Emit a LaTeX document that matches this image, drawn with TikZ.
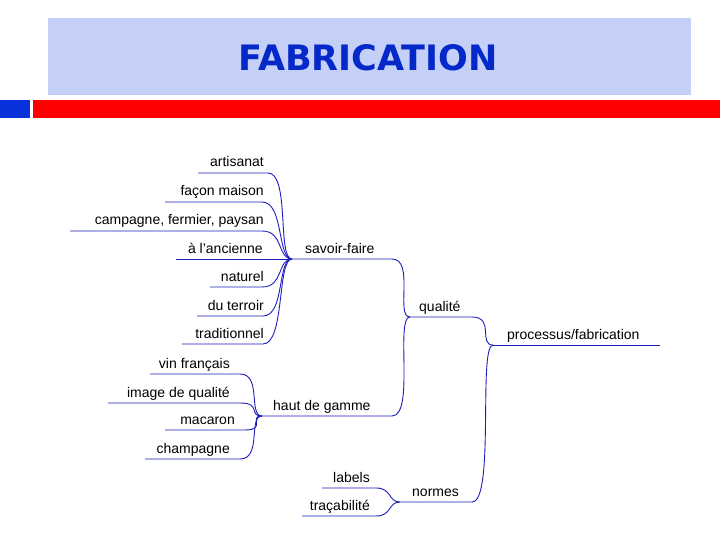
\documentclass[tikz,border=0pt]{standalone}
\usepackage{fontspec}
\setmainfont{Liberation Sans}
\newfontfamily\titlefont{DejaVu Sans}
\begin{document}
\begin{tikzpicture}[x=1pt,y=-1pt,
  br/.style={draw={rgb,255:red,30;green,30;blue,190},line width=0.9pt},
  lblL/.style={font=\fontsize{14}{16}\selectfont,inner sep=0pt,anchor=base east},
  lblR/.style={font=\fontsize{14}{16}\selectfont,inner sep=0pt,anchor=base west}]
\useasboundingbox (0,0) rectangle (720,540);
\fill[white] (0,0) rectangle (720,540);
\fill[fill={rgb,255:red,197;green,208;blue,248}] (48,18) rectangle (691,95);
\node[font=\titlefont\bfseries\fontsize{35}{38}\selectfont,text={rgb,255:red,5;green,40;blue,200}] (title) at (368,58) {FABRICATION};
\fill[fill={rgb,255:red,10;green,50;blue,220}] (0,100) rectangle (30,118);
\fill[red] (33,100) rectangle (720,118);
% hubs
\coordinate (hSF) at (292,259);
\coordinate (hQ) at (410,317);
\coordinate (hP) at (493,345);
\coordinate (hH) at (262,416);
\coordinate (hN) at (400,502);
% left items of savoir-faire
\foreach \nm/\txt/\y/\xa/\xb in {a/artisanat/173/198/268, b/{façon maison}/202/165/262, c/{campagne, fermier, paysan}/231/70/262, e/naturel/287/210/262, f/du terroir/316/197/263, g/traditionnel/344/182/263}{
  \coordinate (s\nm) at (\xa,\y);
  \coordinate (t\nm) at (\xb,\y);
  \node[lblL] (n\nm) at (264,\y-6) {\txt};
  \draw[br] (s\nm) -- (t\nm) .. controls (\xb+22,\y) and (277,259) .. (hSF);
}
\coordinate (sd) at (176,259);
\node[lblL] (nd) at (263,253) {à l'ancienne};
\draw[br] (sd) -- (hSF);
% savoir-faire
\node[lblR] (nsf) at (305,253) {savoir-faire};
\coordinate (esf) at (392,259);
\draw[br] (hSF) -- (esf) .. controls (415,259) and (395,317) .. (hQ);
% haut de gamme items
\foreach \nm/\txt/\y/\xa/\xb in {v/{vin français}/374/150/240, i/{image de qualité}/403/108/240, m/macaron/430/165/245, c/champagne/459/145/240}{
  \coordinate (sh\nm) at (\xa,\y);
  \coordinate (th\nm) at (\xb,\y);
  \node[lblL] (nh\nm) at (\xb-10,\y-6) {\txt};
  \draw[br] (sh\nm) -- (th\nm) .. controls (\xb+22,\y) and (248,416) .. (hH);
}
\node[lblR] (nhg) at (273,410) {haut de gamme};
\coordinate (ehg) at (392,416);
\draw[br] (hH) -- (ehg) .. controls (415,416) and (395,317) .. (hQ);
% qualite
\node[lblR] (nq) at (419,311) {qualité};
\coordinate (eq) at (472,317);
\draw[br] (hQ) -- (eq) .. controls (495,317) and (478,345) .. (hP);
% processus
\node[lblR] (np) at (507,339) {processus/fabrication};
\coordinate (ep) at (660,345);
\draw[br] (hP) -- (ep);
% normes
\coordinate (sl) at (322,488); \coordinate (tl) at (376,488);
\node[lblL] (nl) at (370,482) {labels};
\draw[br] (sl) -- (tl) .. controls (392,488) and (388,502) .. (hN);
\coordinate (str) at (302,516); \coordinate (ttr) at (376,516);
\node[lblL] (ntr) at (370,510) {traçabilité};
\draw[br] (str) -- (ttr) .. controls (392,516) and (388,502) .. (hN);
\node[lblR] (nn) at (412,496) {normes};
\coordinate (en) at (472,502);
\draw[br] (hN) -- (en) .. controls (495,502) and (478,345) .. (hP);
\end{tikzpicture}
\end{document}
